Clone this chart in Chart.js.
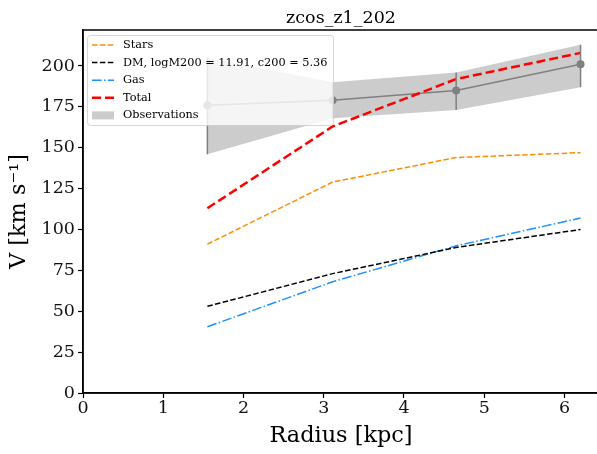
<!DOCTYPE html>
<html>
<head>
<meta charset="utf-8">
<title>zcos_z1_202</title>
<script src="https://cdn.jsdelivr.net/npm/chart.js"></script>
<style>
  body { margin: 0; background: #fff; overflow: hidden; }
</style>
</head>
<body>
<!-- a few px wider than the window: the plot's right spine is cut off in the original too -->
<canvas id="myChart" width="603" height="454"></canvas>
<script>
// values
var radius = [1.55, 3.11, 4.65, 6.2];
var stars = [91, 129, 144, 147];
var dm = [53, 73, 89, 100];
var gas = [40.5, 68, 90, 107];
var total = [113, 163, 192, 208];
var obs = [176, 179, 185, 201];
var obsLow = [146, 168, 173, 187];
var obsHigh = [205, 190, 196, 213];
var xTicks = [0, 1, 2, 3, 4, 5, 6];
var yTicks = [0, 25, 50, 75, 100, 125, 150, 175, 200];

var serif = "'DejaVu Serif', serif";

function pts(ys) {
  var out = [];
  for (var i = 0; i < radius.length; i++) out.push({ x: radius[i], y: ys[i] });
  return out;
}

var legendItems = [
  { label: 'Stars', color: '#ff8c00', width: 1.5, dash: [5.5, 2.4] },
  { label: 'DM, logM200 = 11.91, c200 = 5.36', color: '#000', width: 1.5, dash: [5.5, 2.4] },
  { label: 'Gas', color: '#1e90ff', width: 1.5, dash: [9.6, 2.4, 1.5, 2.4] },
  { label: 'Total', color: '#ff0000', width: 2.5, dash: [9, 4] },
  { label: 'Observations', patch: true }
];

// error bars, frame, title and the boxed legend
const extras = {
  id: 'extras',
  afterDatasetsDraw(chart) {
    const c = chart.ctx, a = chart.chartArea;
    const xs = chart.scales.x, ys = chart.scales.y;
    c.save();
    c.strokeStyle = '#808080';
    c.lineWidth = 1.5;
    for (var i = 0; i < radius.length; i++) {
      var px = xs.getPixelForValue(radius[i]);
      c.beginPath();
      c.moveTo(px, ys.getPixelForValue(obsLow[i]));
      c.lineTo(px, ys.getPixelForValue(obsHigh[i]));
      c.stroke();
    }
    // legend box
    var bx = 87, by = 35, bw = 246, bh = 90;
    c.fillStyle = 'rgba(255,255,255,0.8)';
    c.strokeStyle = 'rgba(204,204,204,0.8)';
    c.lineWidth = 1;
    c.beginPath();
    c.roundRect(bx + 0.5, by + 0.5, bw, bh, 3);
    c.fill();
    c.stroke();
    c.font = '11.3px ' + serif;
    c.textBaseline = 'middle';
    legendItems.forEach(function (it, k) {
      var y = 45 + k * 17.6;
      if (it.patch) {
        c.fillStyle = 'rgba(128,128,128,0.4)';
        c.fillRect(92, y - 4, 22, 8);
      } else {
        c.strokeStyle = it.color;
        c.lineWidth = it.width;
        c.setLineDash(it.dash);
        c.beginPath();
        c.moveTo(92, y);
        c.lineTo(114, y);
        c.stroke();
        c.setLineDash([]);
      }
      c.fillStyle = '#000';
      c.fillText(it.label, 123, y);
    });
    // frame
    c.strokeStyle = '#000';
    c.lineWidth = 1.5;
    c.strokeRect(a.left, a.top, a.right - a.left, a.bottom - a.top);
    // title
    c.font = '17.5px ' + serif;
    c.textAlign = 'center';
    c.textBaseline = 'alphabetic';
    c.fillStyle = '#000';
    c.fillText('zcos_z1_202', (a.left + a.right) / 2, 23);
    c.restore();
  }
};

const data = {
  datasets: [
    { label: 'Total', data: pts(total), borderColor: '#ff0000', borderWidth: 2.5, borderDash: [9, 4], order: 1 },
    { label: 'Stars', data: pts(stars), borderColor: '#ff8c00', borderWidth: 1.5, borderDash: [5.5, 2.4], order: 2 },
    { label: 'DM', data: pts(dm), borderColor: '#000', borderWidth: 1.5, borderDash: [5.5, 2.4], order: 3 },
    { label: 'Gas', data: pts(gas), borderColor: '#1e90ff', borderWidth: 1.5, borderDash: [9.6, 2.4, 1.5, 2.4], order: 4 },
    { label: 'Obs', data: pts(obs), borderColor: '#808080', borderWidth: 1.5, pointRadius: 4, pointBackgroundColor: '#808080', pointBorderWidth: 0, order: 5 },
    { label: 'ObsHigh', data: pts(obsHigh), borderWidth: 0, borderColor: 'rgba(0,0,0,0)', fill: '+1', backgroundColor: 'rgba(128,128,128,0.4)', order: 6 },
    { label: 'ObsLow', data: pts(obsLow), borderWidth: 0, borderColor: 'rgba(0,0,0,0)', order: 7 }
  ]
};

const config = {
  type: 'line',
  data: data,
  options: {
    responsive: false,
    animation: false,
    devicePixelRatio: 1,
    layout: { padding: { top: 30, right: 0, left: 0, bottom: 0 } },
    elements: { point: { radius: 0 }, line: { tension: 0, fill: false } },
    plugins: { legend: { display: false }, tooltip: { enabled: false } },
    scales: {
      x: {
        type: 'linear', min: 0, max: 6.43,
        afterFit: function (s) { s.height = 61; },
        afterBuildTicks: function (s) { s.ticks = xTicks.map(function (v) { return { value: v }; }); },
        grid: { drawOnChartArea: false, tickLength: 5, tickColor: '#000', tickWidth: 1.2 },
        border: { color: '#000', width: 1.5 },
        ticks: { color: '#111', font: { family: serif, size: 17.5 }, padding: 0, maxRotation: 0 },
        title: { display: true, text: 'Radius [kpc]', color: '#000', font: { family: serif, size: 22.4 }, padding: { top: 0 } }
      },
      y: {
        type: 'linear', min: 0, max: 222,
        afterFit: function (s) { s.width = 83; },
        afterBuildTicks: function (s) { s.ticks = yTicks.map(function (v) { return { value: v }; }); },
        grid: { drawOnChartArea: false, tickLength: 5, tickColor: '#000', tickWidth: 1.2 },
        border: { color: '#000', width: 1.5 },
        ticks: { color: '#111', font: { family: serif, size: 17.5 }, padding: 3 },
        title: { display: true, text: 'V [km s\u207B\u00B9]', color: '#000', font: { family: serif, size: 22.4 }, padding: { top: 6, bottom: 0 } }
      }
    }
  },
  plugins: [extras]
};

const ctx = document.getElementById('myChart').getContext('2d');
new Chart(ctx, config);
</script>
</body>
</html>
